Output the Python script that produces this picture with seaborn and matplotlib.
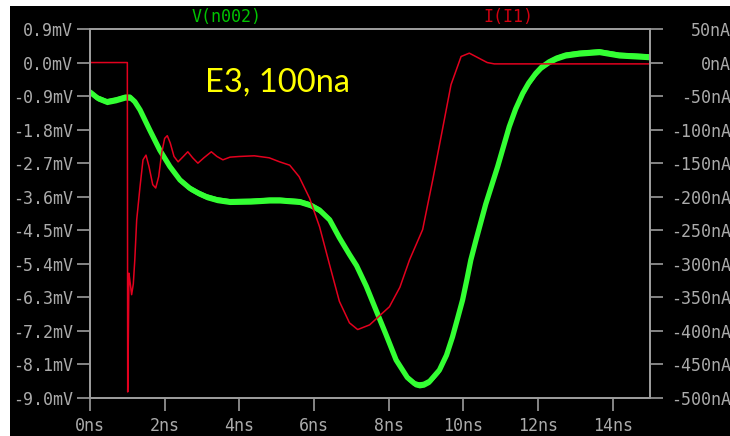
import numpy as np
import pandas as pd
import matplotlib
matplotlib.use("Agg")
import matplotlib.pyplot as plt
import seaborn as sns
from matplotlib.patches import Rectangle

# V(n002) node voltage, mV
time_v = [0.0, 0.2, 0.45, 0.7, 0.94, 1.07, 1.2, 1.34, 1.6, 1.87, 2.14, 2.41, 2.67,
          2.9, 3.12, 3.4, 3.74, 4.3, 4.81, 5.08, 5.61, 5.9, 6.15, 6.42, 6.68, 6.95,
          7.14, 7.4, 7.66, 7.93, 8.2, 8.5, 8.7, 8.82, 8.95, 9.1, 9.36, 9.55, 9.71,
          9.85, 9.98, 10.1, 10.2, 10.34, 10.6, 10.92, 11.23, 11.4, 11.59, 11.75,
          11.94, 12.1, 12.3, 12.5, 12.74, 13.1, 13.64, 14.17, 14.88, 15.0]
v_n002 = [-0.79, -0.95, -1.05, -1.0, -0.93, -0.93, -1.05, -1.27, -1.81, -2.35, -2.79,
          -3.15, -3.37, -3.5, -3.6, -3.68, -3.73, -3.72, -3.69, -3.69, -3.73, -3.82,
          -3.96, -4.22, -4.7, -5.15, -5.45, -6.0, -6.64, -7.3, -7.98, -8.45, -8.62,
          -8.65, -8.63, -8.55, -8.25, -7.85, -7.36, -6.85, -6.37, -5.8, -5.3, -4.76,
          -3.8, -2.79, -1.72, -1.25, -0.83, -0.55, -0.29, -0.12, 0.02, 0.12, 0.2,
          0.25, 0.29, 0.2, 0.16, 0.15]

# I(I1) source current, nA
time_i = [0.0, 1.0, 1.01, 1.025, 1.043, 1.08, 1.115, 1.16, 1.2, 1.25, 1.34, 1.42,
          1.5, 1.58, 1.68, 1.76, 1.84, 1.92, 2.0, 2.07, 2.15, 2.25, 2.36, 2.5, 2.62,
          2.75, 2.89, 3.05, 3.25, 3.4, 3.56, 3.75, 4.0, 4.4, 4.8, 5.08, 5.35, 5.6,
          5.88, 6.15, 6.42, 6.68, 6.95, 7.17, 7.49, 8.02, 8.3, 8.56, 8.91, 9.18,
          9.44, 9.67, 9.94, 10.16, 10.4, 10.64, 10.83, 15.0]
i_i1 = [0, 0, -491, -420, -314, -330, -346, -330, -294, -235, -185, -145, -138,
        -155, -182, -187, -170, -135, -113, -109, -120, -140, -148, -140, -133,
        -142, -150, -142, -133, -140, -145, -141, -140, -139, -142, -148, -153,
        -170, -202, -245, -302, -356, -388, -398, -391, -364, -335, -294, -249,
        -175, -100, -33, 9, 14, 7, 0, -2, -2]

mv_ticks = [0.9, 0.0, -0.9, -1.8, -2.7, -3.6, -4.5, -5.4, -6.3, -7.2, -8.1, -9.0]
mv_labels = ["0.9mV", "0.0mV", "-0.9mV", "-1.8mV", "-2.7mV", "-3.6mV", "-4.5mV",
             "-5.4mV", "-6.3mV", "-7.2mV", "-8.1mV", "-9.0mV"]
na_ticks = [50, 0, -50, -100, -150, -200, -250, -300, -350, -400, -450, -500]
na_labels = ["50nA", "0nA", "-50nA", "-100nA", "-150nA", "-200nA", "-250nA",
             "-300nA", "-350nA", "-400nA", "-450nA", "-500nA"]
ns_ticks = [0, 2, 4, 6, 8, 10, 12, 14]
ns_labels = ["0ns", "2ns", "4ns", "6ns", "8ns", "10ns", "12ns", "14ns"]

volt = pd.DataFrame({"t": time_v, "v": v_n002})
curr = pd.DataFrame({"t": time_i, "i": i_i1})

sns.set_style("dark")
plt.rcParams["font.family"] = ["DejaVu Sans Mono"]

W, H = 730, 436
fig = plt.figure(figsize=(W / 100, H / 100), dpi=100, facecolor="white")
fig.patches.append(Rectangle((10 / W, 0), 720 / W, 430 / H, transform=fig.transFigure,
                             facecolor="black", edgecolor="none", zorder=-10))

ax = fig.add_axes([90 / W, 38 / H, 560 / W, 369 / H])
ax.set_facecolor("black")
ax2 = ax.twinx()

green = "#33ff33"
red = "#e3001e"
grey = "#9c9c9c"
label_grey = "#ababab"

# noisy voltage trace drawn as a thick band
vv = np.array(v_n002)
ax.fill_between(time_v, vv - 0.08, vv + 0.08, color=green, linewidth=0)
sns.lineplot(data=volt, x="t", y="v", ax=ax, color=green, linewidth=3.8,
             estimator=None, sort=False)
sns.lineplot(data=curr, x="t", y="i", ax=ax2, color=red, linewidth=1.1,
             estimator=None, sort=False)

ax.set_xlim(0, 15)
ax.set_ylim(-9.0, 0.9)
ax2.set_ylim(-500, 50)

ax.set_xticks(ns_ticks)
ax.set_xticklabels(ns_labels)
ax.set_yticks(mv_ticks)
ax.set_yticklabels(mv_labels)
ax2.set_yticks(na_ticks)
ax2.set_yticklabels(na_labels)

for a in (ax, ax2):
    a.set_xlabel("")
    a.set_ylabel("")
    a.grid(False)
    for s in a.spines.values():
        s.set_visible(True)
        s.set_color(grey)
        s.set_linewidth(1.4)

ax.tick_params(axis="both", direction="out", length=9.5, width=1.2, color=grey,
               labelcolor=label_grey, labelsize=12, pad=3, bottom=True, left=True)
ax.tick_params(axis="x", pad=4)
ax2.tick_params(axis="y", direction="out", length=9.5, width=1.2, color=grey,
                labelcolor=label_grey, labelsize=12, pad=49, right=True)
for lab in ax2.get_yticklabels():
    lab.set_horizontalalignment("right")

fig.text(227 / W, 1 - 17 / H, "V(n002)", color="#00c400", fontsize=12,
         ha="center", va="center")
fig.text(508 / W, 1 - 17 / H, "I(I1)", color="#d00010", fontsize=12,
         ha="center", va="center")
fig.text(205 / W, 1 - 92 / H, "E3, 100na", color="#ffff00", fontsize=23.5,
         family=["Lato", "DejaVu Sans"], ha="left", va="baseline")

fig.savefig("out.png", dpi=100, facecolor="white")
